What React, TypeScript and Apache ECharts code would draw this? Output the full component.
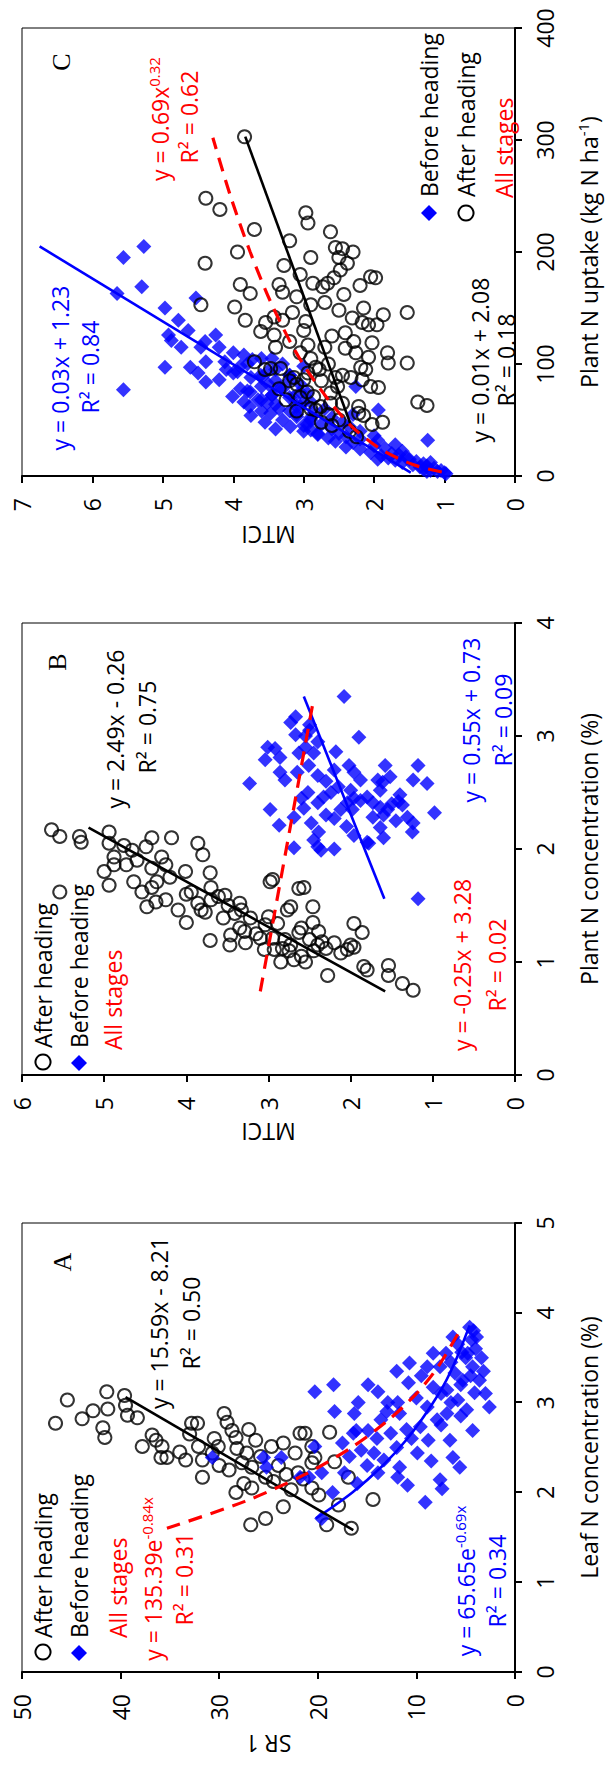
import React, { useEffect, useRef } from "react";
import * as echarts from "echarts";

const FONT = "'Open Sans', 'Noto Sans', sans-serif";
const SERIF = "'Liberation Serif', 'DejaVu Serif', serif";
const BLUE = "#0000FF";
const RED = "#FF0000";

// ---------- Panel A : Leaf N concentration (%) vs SR 1 ----------
const afterHeadingA: number[][] = [
  [2.77, 46.6], [3.03, 45.4], [2.82, 43.9], [2.91, 42.8], [3.12, 41.4], [2.93, 41.3], [2.72, 41.8], [2.61, 41.6],
  [3.08, 39.6], [2.97, 39.5], [2.86, 39.3], [2.83, 38.3], [2.51, 37.8], [2.64, 36.8], [2.58, 36.4], [2.51, 35.8],
  [2.39, 35.9], [2.39, 35.3], [2.36, 33.4], [2.77, 32.8], [2.77, 32.2], [2.51, 32.1], [2.36, 31.7], [2.17, 31.7],
  [2.44, 30.7], [2.51, 30.1], [2.88, 29.5], [2.78, 29.2], [2.69, 28.7], [2.61, 28.3], [2.49, 28.2], [2.33, 27.7],
  [2.44, 27.2], [2.58, 26.3], [2.28, 26.7], [2.17, 25.3], [2.51, 24.7], [2.44, 22.3], [2.66, 21.8], [2.22, 22.0],
  [2.0, 28.3], [2.05, 26.7], [1.84, 23.5], [1.71, 25.3], [1.64, 26.8], [2.03, 22.7], [1.64, 19.1], [1.86, 17.9],
  [1.6, 16.6], [1.92, 14.4], [1.97, 19.9], [2.05, 20.6], [2.66, 21.3], [2.51, 20.6], [2.39, 20.3], [2.67, 18.8],
  [2.34, 18.3], [2.33, 20.6], [2.17, 16.9], [2.3, 24.0], [2.2, 23.2], [2.12, 24.5], [2.4, 25.8], [2.25, 29.0],
  [2.6, 30.5], [2.7, 27.0], [2.55, 23.5], [2.15, 21.5], [2.45, 34.0], [2.65, 33.0], [2.3, 30.0], [2.1, 27.5],
];
const beforeHeadingA: number[][] = [
  [3.12, 20.3], [3.2, 18.4], [2.9, 18.3], [2.88, 16.3], [2.69, 16.1], [3.0, 15.9], [3.2, 14.9], [2.69, 14.9],
  [3.12, 13.9], [2.81, 13.6], [3.0, 12.9], [2.66, 12.6], [3.0, 11.9], [2.88, 11.7], [3.22, 10.8], [3.44, 10.7],
  [3.4, 8.9], [2.73, 9.6], [2.95, 8.9], [2.58, 8.8], [3.55, 8.3], [3.17, 8.3], [2.81, 7.9], [3.4, 7.6],
  [3.14, 6.9], [2.88, 6.9], [2.58, 6.6], [3.73, 6.3], [3.33, 6.1], [3.03, 5.8], [3.56, 5.4], [3.25, 5.3],
  [2.92, 4.9], [3.55, 4.8], [3.84, 4.6], [3.4, 4.3], [3.11, 4.1], [3.73, 3.9], [3.25, 3.6], [2.69, 4.3],
  [2.95, 2.6], [2.28, 5.6], [2.39, 6.3], [2.44, 9.9], [2.28, 11.7], [2.36, 13.3], [2.44, 14.3], [2.47, 15.6],
  [2.66, 16.4], [2.22, 17.3], [2.51, 20.3], [2.22, 19.6], [2.17, 20.9], [2.22, 13.9], [2.17, 11.9], [2.14, 7.6],
  [1.89, 9.1], [2.04, 7.4], [2.08, 10.9], [1.71, 19.6], [2.39, 30.7], [2.39, 25.5], [2.39, 23.7], [2.28, 25.2],
  [2.17, 21.8], [3.6, 4.0], [3.5, 5.0], [3.45, 6.5], [3.3, 4.5], [3.2, 5.5], [3.65, 5.8], [3.7, 4.4],
  [3.35, 3.2], [3.1, 3.0], [3.8, 4.2], [3.5, 3.4], [3.0, 6.5], [2.85, 5.5], [3.1, 7.5], [3.3, 9.5],
  [3.55, 7.0], [2.75, 7.5], [2.6, 10.5], [2.5, 12.0], [2.7, 11.0], [3.05, 10.0], [2.35, 8.5], [2.4, 16.8],
  [2.55, 17.5], [2.9, 13.0], [3.35, 12.0], [2.6, 14.0], [2.3, 15.0], [2.1, 16.0], [2.0, 18.5],
];
const fitAfterA: number[][] = [[1.58, 16.4], [3.06, 39.5]];
const fitBeforeA: number[][] = [
  [1.71, 20.2], [2.0, 16.5], [2.3, 13.4], [2.6, 10.9], [2.9, 8.9], [3.2, 7.2], [3.5, 5.9], [3.86, 4.6],
];
const fitAllA: number[][] = [
  [1.6, 35.3], [1.9, 27.4], [2.2, 21.3], [2.5, 16.6], [2.8, 12.9], [3.1, 10.0], [3.4, 7.8], [3.84, 5.4],
];

// ---------- Panel B : Plant N concentration (%) vs MTCI ----------
const afterHeadingB: number[][] = [
  [1.62, 5.54], [1.68, 4.94], [1.86, 4.88], [1.86, 4.73], [1.71, 4.64], [1.62, 4.54], [1.49, 4.48], [1.66, 4.42],
  [1.71, 4.36], [1.53, 4.37], [1.83, 4.42], [1.86, 4.25], [1.46, 4.1], [1.8, 4.01], [1.35, 4.0], [1.62, 3.94],
  [1.52, 3.86], [1.46, 3.82], [1.44, 3.77], [1.79, 3.71], [1.66, 3.7], [1.19, 3.71], [1.58, 3.61], [1.59, 3.53],
  [1.5, 3.49], [1.39, 3.55], [1.15, 3.47], [1.24, 3.46], [1.43, 3.41], [1.52, 3.35], [1.46, 3.33], [1.27, 3.29],
  [1.17, 3.28], [1.39, 3.22], [1.21, 3.1], [1.11, 3.05], [1.33, 3.04], [1.71, 2.98], [1.73, 2.95], [1.21, 2.95],
  [1.34, 2.89], [1.11, 2.93], [1.12, 2.83], [1.46, 2.77], [1.49, 2.73], [1.15, 2.73], [1.02, 2.69], [1.65, 2.63],
  [1.26, 2.63], [2.17, 5.64], [2.11, 5.54], [2.11, 5.3], [2.06, 5.28], [2.15, 4.94], [2.05, 4.94], [2.03, 4.76],
  [1.99, 4.66], [2.02, 4.49], [2.1, 4.42], [2.1, 4.18], [2.05, 3.86], [1.95, 3.8], [1.93, 4.88], [1.93, 4.3],
  [1.66, 2.57], [1.49, 2.46], [1.35, 2.46], [1.27, 2.39], [1.2, 2.5], [1.15, 2.4], [1.12, 2.3], [1.18, 2.35],
  [1.1, 2.45], [0.88, 2.28], [1.17, 2.2], [1.08, 2.12], [1.11, 2.04], [1.15, 2.0], [1.34, 1.96], [1.26, 1.86],
  [1.13, 1.96], [0.96, 1.84], [0.93, 1.8], [0.97, 1.54], [0.88, 1.54], [0.81, 1.37], [0.75, 1.24],
  [1.05, 2.6], [1.0, 2.85], [1.1, 2.75], [1.2, 2.8], [1.3, 2.6], [1.0, 2.55], [1.25, 3.15], [1.4, 3.0],
  [1.3, 3.35], [1.55, 3.7], [1.75, 4.2], [1.9, 4.6], [1.8, 5.0], [1.55, 4.25], [1.6, 4.0],
];
const beforeHeadingB: number[][] = [
  [3.35, 2.08], [2.99, 1.9], [2.86, 2.18], [2.85, 2.45], [2.74, 2.51], [2.74, 2.02], [2.68, 1.96], [2.61, 1.88],
  [2.74, 1.58], [2.64, 1.52], [2.59, 1.61], [2.52, 1.64], [2.74, 1.18], [2.61, 1.24], [2.58, 1.07], [2.48, 1.4],
  [2.42, 1.42], [2.35, 1.55], [2.37, 1.64], [2.41, 1.73], [2.46, 1.8], [2.43, 1.88], [2.45, 1.96], [2.41, 2.04],
  [2.35, 1.98], [2.35, 2.12], [2.27, 2.2], [2.5, 2.24], [2.46, 2.33], [2.41, 2.4], [2.5, 2.52], [2.36, 2.57],
  [2.23, 2.48], [2.15, 2.39], [2.02, 2.4], [2.12, 1.96], [2.05, 1.78], [2.28, 1.73], [2.19, 1.64], [2.28, 1.31],
  [2.23, 1.24], [2.15, 1.25], [2.32, 0.98], [2.39, 1.37], [2.52, 2.0], [2.61, 1.67], [2.58, 3.23], [3.12, 2.73],
  [3.17, 2.67], [3.01, 2.67], [2.9, 3.01], [2.89, 2.92], [2.79, 3.04], [2.81, 2.86], [2.68, 2.86], [2.61, 2.8],
  [2.35, 2.98], [2.21, 2.87], [2.28, 2.69], [2.01, 2.69], [2.68, 2.65], [2.85, 2.63], [1.56, 1.18], [2.08, 2.45],
  [1.99, 2.36], [2.06, 1.8], [2.6, 2.3], [2.55, 2.15], [2.3, 2.3], [2.2, 2.05], [2.45, 2.6], [2.65, 2.4],
  [2.7, 2.2], [2.95, 2.4], [3.05, 2.5], [2.9, 2.55], [2.4, 1.5], [2.3, 1.6], [2.25, 1.45], [2.0, 2.2],
  [2.1, 1.6], [3.0, 2.55], [3.1, 2.5],
];
const fitAfterB: number[][] = [[0.74, 1.58], [2.19, 5.19]];
const fitBeforeB: number[][] = [[1.56, 1.59], [3.35, 2.57]];
const fitAllB: number[][] = [[0.74, 3.1], [3.29, 2.46]];

// ---------- Panel C : Plant N uptake (kg N ha-1) vs MTCI ----------
const beforeHeadingC: number[][] = [
  [195, 5.56], [205, 5.27], [163, 5.65], [169, 5.3], [77, 5.56], [150, 4.97], [126, 4.92], [97, 4.97],
  [121, 4.88], [139, 4.78], [115, 4.74], [130, 4.64], [97, 4.61], [159, 4.53], [92, 4.5], [115, 4.46],
  [102, 4.39], [84, 4.39], [126, 4.25], [102, 4.12], [71, 4.01], [93, 3.94], [62, 3.77], [104, 3.73],
  [75, 3.76], [65, 3.52], [56, 3.47], [79, 3.33], [44, 3.19], [90, 3.61], [80, 2.26], [59, 1.94], [32, 1.24],
  [3, 1.0], [4, 1.1], [5, 1.2], [5, 1.05], [6, 1.3], [7, 1.15], [8, 1.35], [9, 1.25], [2, 0.98], [4, 1.25],
  [10, 1.45], [11, 1.3], [12, 1.6], [13, 1.4], [14, 1.7], [15, 1.5], [16, 1.8], [17, 1.55], [18, 1.9],
  [19, 1.65], [12, 1.2], [15, 1.95],
  [20, 1.75], [21, 2.05], [22, 1.6], [24, 2.2], [25, 1.85], [26, 2.4], [27, 2.0], [28, 1.7], [30, 2.3],
  [31, 2.55], [32, 1.95], [33, 2.2], [34, 2.65], [35, 2.4],
  [36, 2.0], [37, 2.8], [38, 2.5], [40, 2.2], [41, 2.9], [42, 2.6], [44, 2.35], [45, 3.0], [46, 2.75],
  [48, 2.45], [50, 2.9], [52, 2.6], [53, 3.1], [55, 2.3],
  [57, 2.85], [58, 3.2], [60, 2.7], [62, 3.05], [64, 3.4], [66, 2.9], [68, 3.6], [70, 3.15], [72, 3.45],
  [74, 2.95], [76, 3.8], [78, 3.3], [80, 3.6], [82, 3.05], [85, 3.4], [88, 3.75], [90, 3.2], [94, 3.5],
  [98, 3.9], [100, 3.3], [105, 3.6], [110, 4.0], [115, 4.2], [120, 4.4], [108, 3.85], [95, 4.1], [86, 4.2],
  [92, 4.0], [95, 3.4], [88, 3.6], [85, 3.2], [78, 3.9], [72, 3.45], [70, 3.2], [68, 3.65], [66, 3.0],
  [60, 3.35], [58, 3.6], [55, 3.1], [52, 2.9], [50, 3.3], [48, 3.55], [46, 2.95], [62, 3.1], [75, 3.05],
  [82, 3.5], [90, 3.2], [98, 3.0], [100, 3.8], [105, 3.45], [66, 3.85], [54, 3.75], [42, 3.4], [40, 3.0],
  [38, 2.8],
];
const afterHeadingC: number[][] = [
  [303, 3.84], [248, 4.39], [238, 4.19], [220, 3.7], [200, 3.94], [190, 4.4], [188, 3.28], [235, 2.97],
  [226, 2.94], [218, 2.62], [204, 2.55], [203, 2.45], [195, 2.5], [190, 2.38], [153, 4.46], [171, 3.9],
  [163, 3.76], [151, 3.98], [139, 3.83], [129, 3.61], [137, 3.54], [142, 3.42], [139, 3.3], [126, 3.42],
  [164, 3.3], [171, 3.35], [102, 3.7], [96, 3.47], [96, 3.33], [146, 3.16], [88, 3.14], [162, 2.43],
  [148, 2.5], [141, 2.31], [137, 2.17], [135, 2.08], [135, 1.96], [144, 1.87], [146, 1.53], [128, 2.41],
  [120, 2.29], [119, 2.03], [114, 2.41], [110, 2.26], [106, 2.08], [110, 1.81], [101, 1.8], [101, 1.53],
  [97, 2.19], [95, 2.12], [88, 2.33], [86, 2.17], [80, 2.05], [79, 1.94], [66, 1.38], [63, 1.25],
  [46, 2.03], [48, 1.88], [54, 2.15], [62, 2.22], [172, 2.87], [169, 2.73], [172, 2.66], [177, 2.57],
  [184, 2.48], [177, 1.98], [178, 2.05], [138, 2.97], [153, 2.9], [117, 2.94], [97, 2.83], [95, 2.78],
  [92, 2.94], [86, 3.0], [71, 2.86], [62, 2.76], [65, 2.62], [74, 2.62], [59, 2.83], [56, 2.22],
  [88, 2.55], [80, 2.52], [70, 3.05], [75, 2.95], [82, 3.1], [60, 2.9], [55, 2.65], [50, 2.5],
  [45, 2.6], [65, 2.45], [85, 2.75], [90, 2.45], [100, 2.65], [105, 2.9], [110, 3.05], [120, 3.2],
  [130, 3.0], [160, 3.1], [180, 3.05], [195, 2.9], [210, 3.2], [155, 2.7], [125, 2.6], [115, 2.7],
  [200, 2.3], [170, 2.2], [150, 2.15], [40, 2.35], [35, 2.25], [48, 2.75], [58, 3.1], [68, 3.25],
  [78, 3.35], [95, 3.55], [115, 3.4], [85, 3.2],
];
const fitBeforeC: number[][] = [[3, 1.48], [205, 6.75]];
const fitAfterC: number[][] = [[42, 2.31], [303, 3.83]];
const fitAllC: number[][] = [
  [3.6, 1.04], [10, 1.44], [25, 1.93], [50, 2.41], [100, 3.01], [150, 3.43], [200, 3.76], [250, 4.04], [302, 4.29],
];

// ---------- helpers ----------
const W = 1769;
const H = 608;

function xAxisOf(gi: number, min: number, max: number, interval: number, name: string, extra: any = {}) {
  return {
    gridIndex: gi, type: "value", min, max, interval, name, nameLocation: "middle", nameGap: 60,
    axisLine: { show: true, onZero: false, lineStyle: { color: "#000", width: 2 } },
    axisTick: { show: true, length: 7, lineStyle: { color: "#000", width: 2 } },
    splitLine: { show: false },
    axisLabel: { color: "#000", fontFamily: FONT, fontSize: 23, margin: 18 },
    nameTextStyle: { color: "#000", fontFamily: FONT, fontSize: 23, lineHeight: 28, ...extra },
  };
}
function yAxisOf(gi: number, min: number, max: number, interval: number, name: string, gap: number) {
  return {
    gridIndex: gi, type: "value", min, max, interval, name, nameLocation: "middle", nameGap: gap, nameRotate: 90,
    axisLine: { show: true, onZero: false, lineStyle: { color: "#000", width: 2 } },
    axisTick: { show: true, length: 7, lineStyle: { color: "#000", width: 2 } },
    splitLine: { show: false },
    axisLabel: { color: "#000", fontFamily: FONT, fontSize: 23, margin: 22 },
    nameTextStyle: { color: "#000", fontFamily: FONT, fontSize: 23 },
  };
}
function circles(data: number[][], gi: number, z: number) {
  return {
    type: "scatter", xAxisIndex: gi, yAxisIndex: gi, data, symbol: "circle", symbolSize: 13, silent: true, z,
    itemStyle: { color: "rgba(255,255,255,0)", borderColor: "#000", borderWidth: 2 },
  };
}
function diamonds(data: number[][], gi: number, z: number) {
  return {
    type: "scatter", xAxisIndex: gi, yAxisIndex: gi, data, symbol: "diamond", symbolSize: 15, silent: true, z,
    itemStyle: { color: BLUE },
  };
}
function fit(data: number[][], gi: number, color: string, dashed = false) {
  return {
    type: "line", xAxisIndex: gi, yAxisIndex: gi, data, symbol: "none", showSymbol: false, silent: true, z: 6,
    smooth: data.length > 2 ? 0.3 : false,
    lineStyle: { color, width: dashed ? 3.2 : 2.6, type: dashed ? [14, 9] : "solid" },
  };
}
function txt(x: number, y: number, text: string, fill = "#000", align = "center", extra: any = {}) {
  return {
    type: "text", x, y, silent: true, z: 10,
    style: {
      text, fill, fontFamily: FONT, fontSize: 23, lineHeight: 28, align, verticalAlign: "middle",
      rich: { s: { fontSize: 15, verticalAlign: "top", fontFamily: FONT } },
      ...extra,
    },
  };
}
function circleMark(cx: number, cy: number) {
  return { type: "circle", silent: true, z: 10, shape: { cx, cy, r: 7.5 }, style: { fill: "none", stroke: "#000", lineWidth: 2 } };
}
function diamondMark(cx: number, cy: number) {
  const h = 8;
  return {
    type: "polygon", silent: true, z: 10,
    shape: { points: [[cx, cy - h], [cx + h, cy], [cx, cy + h], [cx - h, cy]] },
    style: { fill: BLUE },
  };
}
function letter(x: number, y: number, t: string) {
  return { type: "text", x, y, silent: true, z: 10, style: { text: t, fill: "#000", fontFamily: SERIF, fontSize: 26, align: "center", verticalAlign: "middle" } };
}

const graphics = [
  // Panel A
  letter(507, 62, "A"),
  txt(446, 159, "y = 15.59x - 8.21"),
  txt(446, 191, "R² = 0.50"),
  circleMark(117, 43), txt(131, 43, "After heading", "#000", "left"),
  diamondMark(116, 79), txt(131, 79, "Before heading", "#000", "left"),
  txt(131, 118, "All stages", RED, "left"),
  txt(190, 153, "y = 135.39e{s|-0.84x}", RED),
  txt(190, 184, "R² = 0.31", RED),
  txt(188, 466, "y = 65.65e{s|-0.69x}", BLUE),
  txt(188, 497, "R² = 0.34", BLUE),
  // Panel B
  letter(1107, 57, "B"),
  txt(1040, 115, "y = 2.49x - 0.26"),
  txt(1042, 147, "R² = 0.75"),
  txt(1049, 471, "y = 0.55x + 0.73", BLUE),
  txt(1049, 503, "R² = 0.09", BLUE),
  txt(804, 462, "y = -0.25x + 3.28", RED),
  txt(804, 497, "R² = 0.02", RED),
  circleMark(707, 43), txt(721, 43, "After heading", "#000", "left"),
  diamondMark(706, 79), txt(721, 79, "Before heading", "#000", "left"),
  txt(719, 113, "All stages", RED, "left"),
  // Panel C
  letter(1707, 61, "C"),
  txt(1650, 160, "y = 0.69x{s|0.32}", RED),
  txt(1652, 189, "R² = 0.62", RED),
  txt(1401, 60, "y = 0.03x + 1.23", BLUE),
  txt(1402, 90, "R² = 0.84", BLUE),
  txt(1409, 480, "y = 0.01x + 2.08"),
  txt(1409, 506, "R² = 0.18"),
  diamondMark(1556, 429), txt(1572, 429, "Before heading", "#000", "left"),
  circleMark(1556, 466), txt(1572, 466, "After heading", "#000", "left"),
  txt(1571, 504, "All stages", RED, "left"),
];

const option: any = {
  animation: false,
  backgroundColor: "#fff",
  grid: [
    { left: 97, top: 22, width: 449, height: 498 },
    { left: 694, top: 22, width: 452, height: 498 },
    { left: 1293, top: 22, width: 448, height: 498 },
  ].map((g) => ({ ...g, show: true, borderColor: "#000", borderWidth: 1, backgroundColor: "transparent" })),
  xAxis: [
    xAxisOf(0, 0, 5, 1, "Leaf N concentration (%)"),
    xAxisOf(1, 0, 4, 1, "Plant N concentration (%)"),
    xAxisOf(2, 0, 400, 100, "Plant N uptake (kg N ha{s|-1})", {
      rich: { s: { fontSize: 15, verticalAlign: "top", fontFamily: FONT, color: "#000" } },
    }),
  ],
  yAxis: [
    yAxisOf(0, 0, 50, 10, "SR 1", 60),
    yAxisOf(1, 0, 6, 1, "MTCI", 45),
    yAxisOf(2, 0, 7, 1, "MTCI", 47),
  ],
  series: [
    circles(afterHeadingA, 0, 2),
    diamonds(beforeHeadingA, 0, 3),
    fit(fitBeforeA, 0, BLUE),
    fit(fitAfterA, 0, "#000"),
    fit(fitAllA, 0, RED, true),
    circles(afterHeadingB, 1, 2),
    diamonds(beforeHeadingB, 1, 3),
    fit(fitAfterB, 1, "#000"),
    fit(fitBeforeB, 1, BLUE),
    fit(fitAllB, 1, RED, true),
    diamonds(beforeHeadingC, 2, 2),
    circles(afterHeadingC, 2, 3),
    fit(fitBeforeC, 2, BLUE),
    fit(fitAfterC, 2, "#000"),
    fit(fitAllC, 2, RED, true),
  ],
  graphic: { elements: graphics },
};

export default function App() {
  const ref = useRef<HTMLDivElement>(null);
  useEffect(() => {
    if (!ref.current) return;
    const chart = echarts.init(ref.current, null, { renderer: "svg", width: W, height: H });
    chart.setOption(option);
    return () => chart.dispose();
  }, []);
  return (
    <div style={{ position: "fixed", left: 0, top: 0, width: H, height: W, overflow: "hidden", background: "#fff" }}>
      <div
        ref={ref}
        style={{
          position: "absolute", left: 0, top: 0, width: W, height: H,
          transformOrigin: "0 0", transform: `translateY(${W}px) rotate(-90deg)`,
        }}
      />
    </div>
  );
}
